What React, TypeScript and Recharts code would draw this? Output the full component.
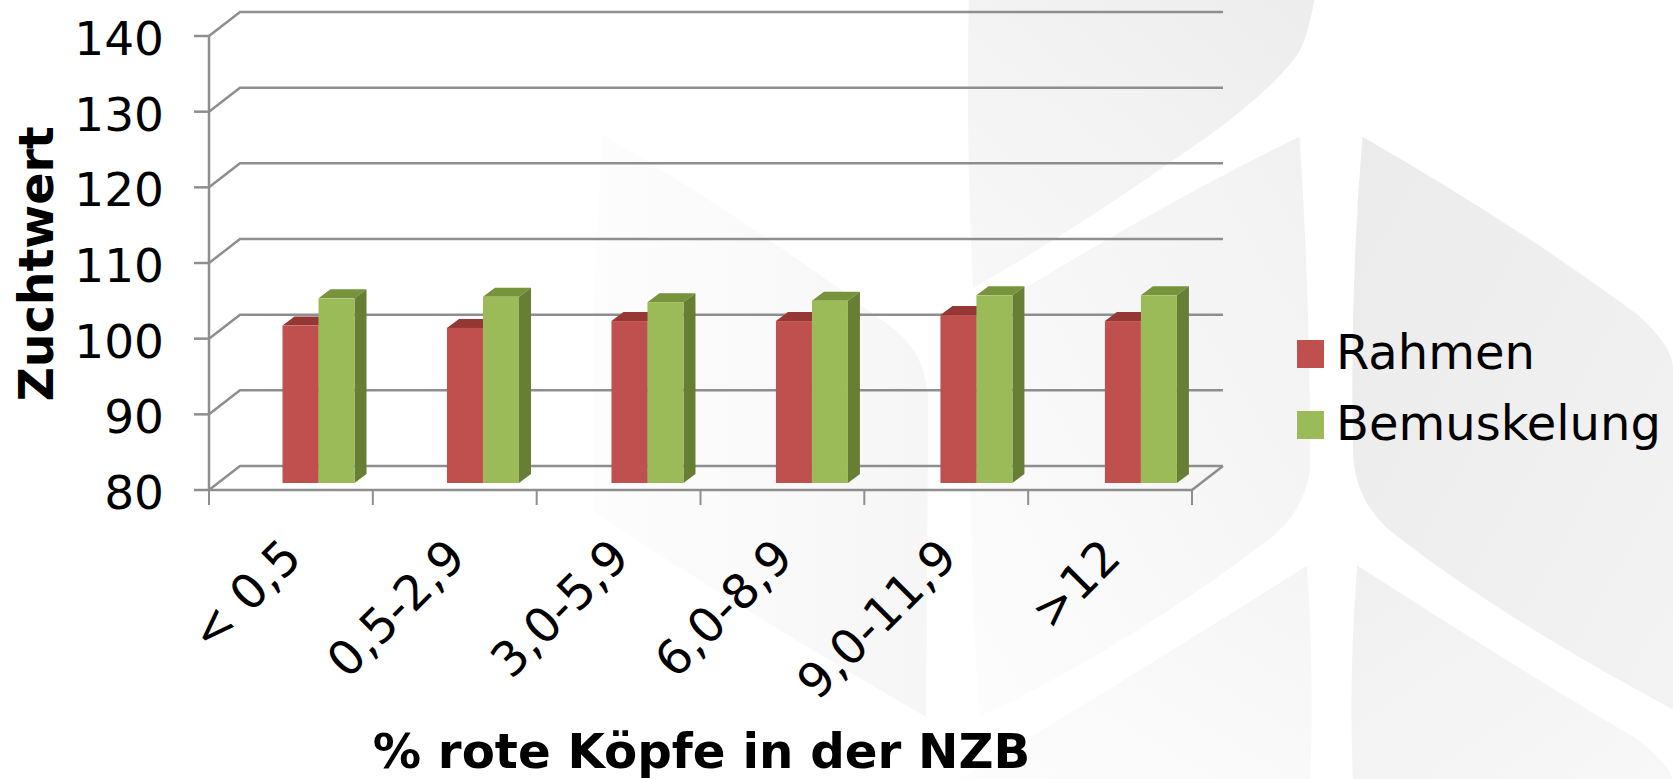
import { BarChart, Bar, XAxis, YAxis, CartesianGrid, Legend } from "recharts";

const categories = ["< 0,5", "0,5-2,9", "3,0-5,9", "6,0-8,9", "9,0-11,9", ">12"];
const rahmen = [100.8, 100.5, 101.4, 101.4, 102.2, 101.4];
const bemuskelung = [104.4, 104.6, 103.9, 104.1, 104.8, 104.8];
const yTicks = [80, 90, 100, 110, 120, 130, 140];

const chartData = categories.map((name, i) => ({
    name,
    rahmen: rahmen[i],
    bemuskelung: bemuskelung[i],
}));

const FONT = "'DejaVu Sans', Verdana, sans-serif";
const AXIS_GREY = "#8e8e8e";
const LINE_WIDTH = 2.5;
const DEPTH_X = 31;
const DEPTH_Y = 24;
const PLOT_BOTTOM = 490;
const BAND = 983 / 6;

// 3D look from the original: wall/floor lines run back from the front axis
function WallLine(props: any) {
    const { x1, x2, y1, index } = props;
    const floor = Math.abs(y1 - PLOT_BOTTOM) < 1;
    return (
        <g key={index}>
            <polyline
                points={`${x1},${y1} ${x1 + DEPTH_X},${y1 - DEPTH_Y} ${x2 + DEPTH_X},${y1 - DEPTH_Y}`}
                fill="none"
                stroke={AXIS_GREY}
                strokeWidth={LINE_WIDTH}
            />
            {floor && (
                <line x1={x2} y1={y1} x2={x2 + DEPTH_X} y2={y1 - DEPTH_Y} stroke={AXIS_GREY} strokeWidth={LINE_WIDTH} />
            )}
        </g>
    );
}

function Bar3D(props: any) {
    const { y, width, height, fill, top, side, index } = props;
    const x = props.x + 27.5 + index * 0.65;
    const yy = y - 7;
    const dx = 12;
    const dy = 9;
    return (
        <g>
            <polygon points={`${x},${yy} ${x + dx},${yy - dy} ${x + width + dx},${yy - dy} ${x + width},${yy}`} fill={top} />
            <polygon
                points={`${x + width},${yy} ${x + width + dx},${yy - dy} ${x + width + dx},${yy + height - dy} ${x + width},${yy + height}`}
                fill={side}
            />
            <rect x={x} y={yy} width={width} height={height} fill={fill} />
        </g>
    );
}

// tick marks sit between the categories, labels are turned 45 degrees
function CategoryTick({ x, payload, index }: any) {
    const lx = x + 13;
    const ly = PLOT_BOTTOM + 70;
    const last = index === categories.length - 1;
    return (
        <g>
            <line x1={x - BAND / 2} x2={x - BAND / 2} y1={PLOT_BOTTOM} y2={PLOT_BOTTOM + 15} stroke={AXIS_GREY} strokeWidth={2} />
            {last && (
                <line x1={x + BAND / 2} x2={x + BAND / 2} y1={PLOT_BOTTOM} y2={PLOT_BOTTOM + 15} stroke={AXIS_GREY} strokeWidth={2} />
            )}
            <text
                x={lx}
                y={ly}
                textAnchor="end"
                fontSize={48}
                fontFamily={FONT}
                fill="#000"
                transform={`rotate(-45 ${lx} ${ly})`}
            >
                {payload.value}
            </text>
        </g>
    );
}

function ValueTick({ y, payload }: any) {
    return (
        <text x={164} y={y + 19} textAnchor="end" fontSize={47} fontFamily={FONT} fill="#000">
            {payload.value}
        </text>
    );
}

function LegendBox({ payload }: any) {
    return (
        <div>
            {(payload || []).map((item: any) => (
                <div key={item.value} style={{ display: "flex", alignItems: "center", height: 71 }}>
                    <span style={{ width: 27, height: 28, background: item.color, marginRight: 12, marginTop: 2 }} />
                    <span style={{ fontSize: 48, fontFamily: FONT, color: "#000", lineHeight: "71px" }}>{item.value}</span>
                </div>
            ))}
        </div>
    );
}

function Watermark() {
    return (
        <svg
            width={1673}
            height={779}
            viewBox="0 0 1568 730"
            style={{ position: "absolute", left: 0, top: 0 }}
        >
            <defs>
                <linearGradient id="wmA" x1="0" y1="1" x2="1" y2="0">
                    <stop offset="0" stopColor="#f8f8f8" />
                    <stop offset="1" stopColor="#ededed" />
                </linearGradient>
                <linearGradient id="wmB" x1="0" y1="0.5" x2="1" y2="0.5">
                    <stop offset="0" stopColor="#fdfdfd" />
                    <stop offset="1" stopColor="#f6f6f6" />
                </linearGradient>
                <linearGradient id="wmC" x1="0" y1="1" x2="1" y2="0">
                    <stop offset="0" stopColor="#fdfdfd" />
                    <stop offset="1" stopColor="#f1f1f1" />
                </linearGradient>
                <linearGradient id="wmD" x1="0" y1="0" x2="1" y2="1">
                    <stop offset="0" stopColor="#ebebeb" />
                    <stop offset="1" stopColor="#f3f3f3" />
                </linearGradient>
                <linearGradient id="wmE" x1="0" y1="1" x2="1" y2="0">
                    <stop offset="0" stopColor="#fdfdfd" />
                    <stop offset="1" stopColor="#f5f5f5" />
                </linearGradient>
                <linearGradient id="wmF" x1="0" y1="0" x2="1" y2="1">
                    <stop offset="0" stopColor="#f0f0f0" />
                    <stop offset="1" stopColor="#f8f8f8" />
                </linearGradient>
            </defs>
            <path d="M908 0 L1232 0 Q1225 35 1218 48 Q1190 90 1100 150 Q1000 220 912 270 Q905 130 908 0 Z" fill="url(#wmA)" />
            <path d="M565 126 Q700 205 840 310 Q870 335 870 380 L868 672 Q700 575 557 480 Q552 300 565 126 Z" fill="url(#wmB)" />
            <path d="M1218 128 Q1228 280 1228 440 Q1222 480 1190 505 Q1050 610 918 672 Q905 480 912 300 Q1080 195 1218 128 Z" fill="url(#wmC)" />
            <path d="M1277 128 Q1420 210 1535 295 Q1568 325 1568 345 L1568 665 Q1400 575 1300 495 Q1268 465 1268 420 Q1265 270 1277 128 Z" fill="url(#wmD)" />
            <path d="M1225 530 Q1232 640 1228 730 L900 730 Q1060 635 1225 530 Z" fill="url(#wmE)" />
            <path d="M1272 530 Q1420 625 1530 690 Q1560 710 1568 730 L1268 730 Q1264 630 1272 530 Z" fill="url(#wmF)" />
        </svg>
    );
}

export default function App() {
    return (
        <div style={{ position: "absolute", left: 0, top: 0, width: 1673, height: 779, background: "#fff", overflow: "hidden" }}>
            <Watermark />
            <BarChart
                width={1673}
                height={779}
                data={chartData}
                margin={{ top: 36, right: 481, bottom: 0, left: 0 }}
                barSize={36}
                barGap={0}
                style={{ position: "absolute", left: 0, top: 0 }}
            >
                <CartesianGrid horizontal={WallLine as any} vertical={false} />
                <XAxis
                    dataKey="name"
                    height={289}
                    interval={0}
                    tick={<CategoryTick />}
                    tickLine={false}
                    axisLine={{ stroke: AXIS_GREY, strokeWidth: LINE_WIDTH }}
                    label={{
                        value: "% rote Köpfe in der NZB",
                        position: "insideBottom",
                        offset: 11,
                        dx: 1,
                        style: { fontSize: 48.3, fontWeight: 700, fontFamily: FONT, fill: "#000" },
                    }}
                />
                <YAxis
                    width={209}
                    domain={[80, 140]}
                    ticks={yTicks}
                    tick={<ValueTick />}
                    tickSize={15}
                    tickLine={{ stroke: AXIS_GREY, strokeWidth: LINE_WIDTH }}
                    axisLine={{ stroke: AXIS_GREY, strokeWidth: LINE_WIDTH }}
                    label={{
                        value: "Zuchtwert",
                        angle: -90,
                        position: "insideLeft",
                        offset: 36,
                        dy: 1,
                        style: { fontSize: 47.5, fontWeight: 700, fontFamily: FONT, fill: "#000", textAnchor: "middle" },
                    }}
                />
                <Legend
                    layout="vertical"
                    align="center"
                    verticalAlign="middle"
                    itemSorter={null as any}
                    content={<LegendBox />}
                    wrapperStyle={{ position: "absolute", left: 1297, top: 317, width: 376, bottom: "auto" }}
                />
                <Bar
                    dataKey="rahmen"
                    name="Rahmen"
                    fill="#c0504d"
                    shape={(p: any) => <Bar3D {...p} top="#953735" side="#7f2f2d" />}
                    isAnimationActive={false}
                />
                <Bar
                    dataKey="bemuskelung"
                    name="Bemuskelung"
                    fill="#9bbb59"
                    shape={(p: any) => <Bar3D {...p} top="#77933c" side="#667f35" />}
                    isAnimationActive={false}
                />
            </BarChart>
        </div>
    );
}
